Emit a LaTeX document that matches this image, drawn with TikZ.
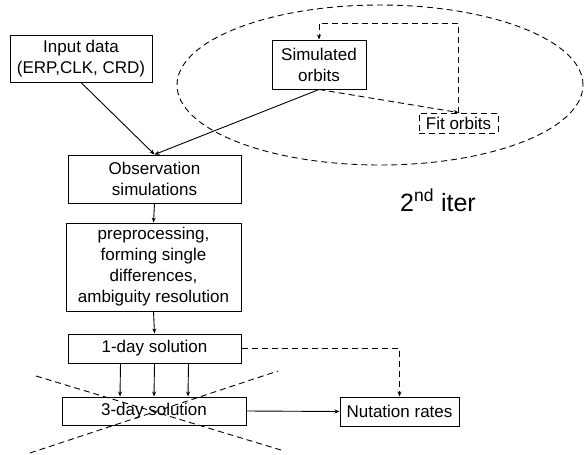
\documentclass[tikz,border=0pt]{standalone}
\usepackage{fontspec}
\setmainfont{Liberation Sans}
\usetikzlibrary{arrows.meta}
\begin{document}
\begin{tikzpicture}[x=1pt, y=-1pt,
        box/.style={draw, line width=1pt, align=center, inner sep=0pt,
            font=\fontsize{17}{21}\selectfont},
        flow/.style={line width=0.9pt, -{Stealth[length=5pt,width=4pt]}},
        dflow/.style={flow, dash pattern=on 6pt off 4pt},
        dline/.style={line width=0.9pt, dash pattern=on 6pt off 4pt}]
            \useasboundingbox (0,0) rectangle (584,455);

            \draw[dline] (380,85) ellipse [x radius=203pt, y radius=80pt];

            \node[box, minimum width=142pt, minimum height=47pt] (input) at (81,58.5) {Input data\\(ERP,CLK, CRD)};
            \node[box, minimum width=94pt, minimum height=49pt] (sim) at (319,64.5) {Simulated\\orbits};
            \node[box, dline, minimum width=79pt, minimum height=20pt] (fit) at (458.5,123) {Fit orbits};
            \node[box, minimum width=173pt, minimum height=48pt] (obs) at (154.5,179) {Observation\\simulations};
            \node[box, minimum width=175pt, minimum height=88pt] (pre) at (153.5,267) {preprocessing,\\forming single\\differences,\\ambiguity resolution};
            \node[box, minimum width=173pt, minimum height=29pt] (one) at (154.5,348.5) {1-day solution};
            \node[box, minimum width=184pt, minimum height=28pt] (three) at (154,411) {3-day solution};
            \node[box, minimum width=119pt, minimum height=29pt] (nut) at (399.5,411.5) {Nutation rates};
            \node[anchor=base west, inner sep=0pt, font=\fontsize{25}{30}\selectfont] (iter) at (400,211) {2\textsuperscript{nd} iter};

            \coordinate (loop) at (458.5,23);

            \draw[flow] (input.south) -- (obs.north);
            \draw[flow] (sim.south) -- (obs.north);
            \draw[dflow] (sim.south) -- (fit.north);
            \draw[dflow] (fit.north) -- (loop) -| (sim.north);
            \draw[flow] (obs.south) -- (pre.north);
            \draw[flow] (pre.south) -- (one.north);
            \draw[flow] ([xshift=-34pt]one.south) -- ([xshift=-34pt]three.north);
            \draw[flow] (one.south) -- (three.north);
            \draw[flow] ([xshift=34pt]one.south) -- ([xshift=34pt]three.north);
            \draw[dflow] (one.east) -| (nut.north);
            \draw[flow] (three.east) -- (nut.west);

            \draw[dline] (36,376) -- (281,450);
            \draw[dline] (30,453) -- (278,371);
        \end{tikzpicture}
\end{document}
